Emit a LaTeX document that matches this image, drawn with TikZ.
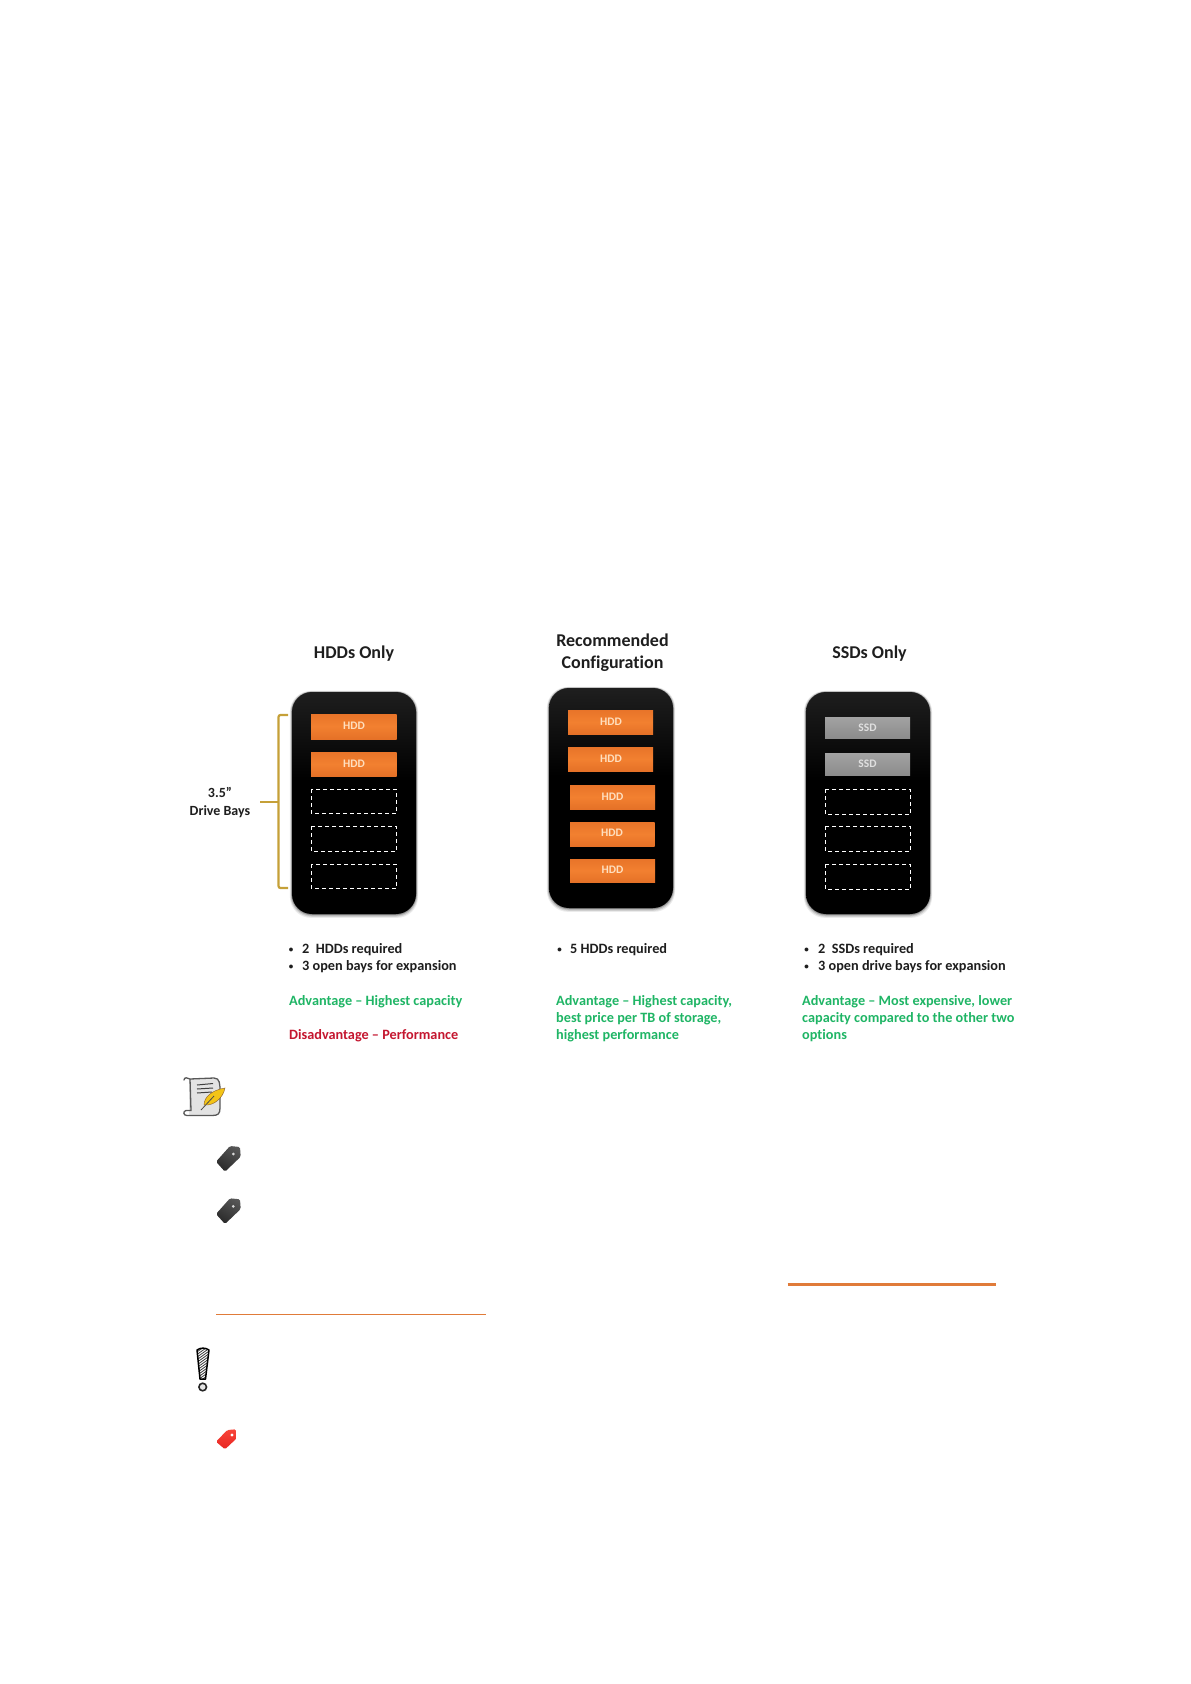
\documentclass[tikz,border=0pt]{standalone}
\usepackage{fontspec}
\setmainfont[Ligatures=NoCommon]{Carlito}
\usetikzlibrary{patterns}
\definecolor{inkc}{HTML}{1E1E1E}
\definecolor{greenc}{HTML}{1FB565}
\definecolor{redc}{HTML}{C4162F}
\definecolor{goldc}{HTML}{C5A038}
\definecolor{rulec}{HTML}{E07B39}
\definecolor{towertop}{HTML}{444444}
\definecolor{towerlow}{HTML}{202020}
\definecolor{hddlow}{HTML}{D8621E}
\definecolor{hddmid}{HTML}{F28030}
\definecolor{hddtop}{HTML}{DE6822}
\definecolor{ssdlow}{HTML}{808080}
\definecolor{ssdtop}{HTML}{AEAEAE}
\definecolor{redlow}{HTML}{E11414}
\definecolor{redhigh}{HTML}{FF5546}
\definecolor{taglow}{HTML}{141414}
\definecolor{taghigh}{HTML}{6A6A6A}
\pgfdeclareverticalshading{towershade}{100bp}{color(0bp)=(towerlow); color(8bp)=(black); color(55bp)=(black); color(100bp)=(towertop)}
\pgfdeclareverticalshading{hddshade}{100bp}{color(0bp)=(hddlow); color(50bp)=(hddmid); color(100bp)=(hddtop)}
\pgfdeclareverticalshading{ssdshade}{100bp}{color(0bp)=(ssdlow); color(100bp)=(ssdtop)}
\pgfdeclareverticalshading{redtag}{100bp}{color(0bp)=(redlow); color(100bp)=(redhigh)}
\pgfdeclareverticalshading{darktag}{100bp}{color(0bp)=(taglow); color(100bp)=(taghigh)}
\tikzset{
  title/.style={font=\fontsize{18}{18}\selectfont\bfseries,text=inkc,inner sep=0pt,anchor=base},
  body/.style={font=\fontsize{14.25}{14.25}\selectfont\bfseries,inner sep=0pt,anchor=base west},
  bodyk/.style={body,text=inkc},
  bodyg/.style={body,text=greenc},
  bodyr/.style={body,text=redc},
  dot/.style={font=\fontsize{9}{9}\selectfont\bfseries,text=inkc,inner sep=0pt,anchor=base},
  drive/.style={font=\fontsize{11.5}{11.5}\selectfont\bfseries,inner sep=0pt},
  hddlabel/.style={drive,text=orange!25!white},
  ssdlabel/.style={drive,text=white!88!black},
  bay/.style={draw=white,line width=0.9pt,dash pattern=on 4pt off 3pt},
  hddbox/.style={shading=hddshade},
  ssdbox/.style={shading=ssdshade},
  towerbody/.style={rounded corners=20pt,shading=towershade},
  bracket/.style={draw=goldc,line width=2.2pt,rounded corners=2pt},
  linkrule/.style={draw=rulec},
}
\newcommand{\towerat}[4]{% x0 y0 x1 y1
  \foreach \g/\op in {3.5/0.08,2.5/0.12,1.5/0.18,0.7/0.25}{
    \fill[black,opacity=\op,rounded corners=21pt] (#1-\g*0.6,#2-\g*0.3) rectangle (#3+\g*0.6,#4+\g*1.1);
  }
  \path[towerbody] (#1,#2) rectangle (#3,#4);
}
\newcommand{\drivetag}[2]{% dx dy dark tag
  \begin{scope}[shift={(#1,#2)}]
    \path[shading=darktag,rounded corners=1.5pt,shading angle=-30] (216,1161.7) -- (225,1171.7) -- (240.7,1156.7) -- (240,1147) -- (230,1146) -- cycle;
    \fill[white!85!black] (233.3,1154) circle (1.5);
  \end{scope}
}
\begin{document}
\begin{tikzpicture}[x=1pt,y=-1pt]
\useasboundingbox (0,0) rectangle (1191,1684);
\fill[white] (0,0) rectangle (1191,1684);

% titles
\node[title] (t1) at (354,658.5) {HDDs Only};
\node[title] (t2a) at (612.5,646.5) {Recommended};
\node[title] (t2b) at (612.5,668.5) {Configuration};
\node[title] (t3) at (869.5,658) {SSDs Only};

% towers
\towerat{292}{692}{416}{914}
\towerat{549}{688}{673}{908}
\towerat{806}{692}{930}{914}

% tower 1
\path[hddbox] (311,714) rectangle (396.5,739);
\path[hddbox] (311,752) rectangle (396.5,776);
\node[hddlabel] (h1a) at (354,726) {HDD};
\node[hddlabel] (h1b) at (354,763.5) {HDD};
\draw[bay] (311,789) rectangle (396.5,813);
\draw[bay] (311,826) rectangle (396.5,851);
\draw[bay] (311,864) rectangle (396.5,888);

% tower 2
\path[hddbox] (568,710) rectangle (653,734);
\path[hddbox] (568,747) rectangle (653,771);
\path[hddbox] (570,785) rectangle (655,809);
\path[hddbox] (570,822) rectangle (654.5,846);
\path[hddbox] (570,859) rectangle (655,882);
\node[hddlabel] (h2a) at (611,721.5) {HDD};
\node[hddlabel] (h2b) at (611,758.5) {HDD};
\node[hddlabel] (h2c) at (612.5,796.5) {HDD};
\node[hddlabel] (h2d) at (612,833) {HDD};
\node[hddlabel] (h2e) at (612.5,870) {HDD};

% tower 3
\path[ssdbox] (825,717) rectangle (910,738);
\path[ssdbox] (825,753) rectangle (910,775);
\node[ssdlabel] (s3a) at (867.5,727.5) {SSD};
\node[ssdlabel] (s3b) at (867.5,764) {SSD};
\draw[bay] (825,789) rectangle (910.5,814);
\draw[bay] (825,826) rectangle (910.5,851);
\draw[bay] (825,864) rectangle (910.5,889);

% bracket
\draw[bracket] (288,715) -- (278.5,715) -- (278.5,888) -- (288,888);
\draw[bracket,rounded corners=0pt] (260,802) -- (278.5,802);
\node[font=\fontsize{14}{14}\selectfont\bfseries,text=inkc,inner sep=0pt,anchor=base] (b1) at (220,797) {3.5”};
\node[font=\fontsize{14}{14}\selectfont\bfseries,text=inkc,inner sep=0pt,anchor=base] (b2) at (220,815) {Drive Bays};

% column 1 text
\node[dot] (c1a) at (291,952) {•};
\node[bodyk] (c1b) at (302,953) {2\ \ HDDs required};
\node[dot] (c1c) at (291,969) {•};
\node[bodyk] (c1d) at (302,970) {3 open bays for expansion};
\node[bodyg] (c1e) at (289,1005) {Advantage – Highest capacity};
\node[bodyr] (c1f) at (289,1039.5) {Disadvantage – Performance};

% column 2 text
\node[dot] (c2a) at (559.5,952) {•};
\node[bodyk] (c2b) at (570,953) {5 HDDs required};
\node[bodyg] (c2c) at (556,1005) {Advantage – Highest capacity,};
\node[bodyg] (c2d) at (556,1022) {best price per TB of storage,};
\node[bodyg] (c2e) at (556,1039) {highest performance};

% column 3 text
\node[dot] (c3a) at (806.5,952) {•};
\node[bodyk] (c3b) at (818,953) {2\ \ SSDs required};
\node[dot] (c3c) at (806.5,969) {•};
\node[bodyk] (c3d) at (818,970) {3 open drive bays for expansion};
\node[bodyg] (c3e) at (802,1005) {Advantage – Most expensive, lower};
\node[bodyg] (c3f) at (802,1022) {capacity compared to the other two};
\node[bodyg] (c3g) at (802,1039) {options};

% scroll icon
\fill[gray!22] (189,1079) -- (216,1079) .. controls (221,1080) and (220,1086) .. (220,1092) -- (220,1110) .. controls (220,1114) and (217,1115.5) .. (214,1115.5) -- (189,1115.5) -- cycle;
\draw[gray!25!black!75,line width=1.3pt,line cap=round] (184,1080) .. controls (184,1077) and (188,1077.5) .. (190,1079) -- (214,1078) .. controls (220,1078) and (220,1084) .. (220,1092) -- (220,1108) .. controls (220,1114) and (218,1115.5) .. (212,1115.5) -- (187,1115.5) .. controls (183,1115.5) and (183,1111) .. (186,1110.5) -- (191,1110.5) -- (190,1079);
\draw[gray!50!black,line width=1pt] (197,1085) -- (213,1083.5) (197,1089) -- (213,1088) (197,1093) -- (212,1092);
\fill[yellow!65!orange!85!brown,draw=brown!70!black,line width=0.4pt] (204,1105) .. controls (204,1097) and (212,1090) .. (225,1088) .. controls (223,1098) and (214,1106) .. (204,1105) -- cycle;
\draw[gray!60!black,line width=0.8pt] (201,1110) -- (214,1096);

% dark tags
\drivetag{0}{0}
\drivetag{0}{52.3}

% rules
\draw[linkrule,line width=2.2pt] (787.5,1284.5) -- (996,1284.5);
\draw[linkrule,line width=1pt] (216,1314) -- (486,1314);

% exclamation icon
\begin{scope}
  \clip (197,1350) .. controls (200,1347.5) and (206,1347.5) .. (209,1350) -- (205.5,1379) -- (200,1379) -- cycle;
  \fill[white] (190,1345) rectangle (215,1382);
  \foreach \k in {0,2.6,...,36}{
    \draw[gray!45!black,line width=0.8pt] (196,1350+\k) -- (210,1340+\k);
  }
\end{scope}
\draw[black,line width=1.5pt,line join=round] (197,1350) .. controls (200,1347.5) and (206,1347.5) .. (209,1350) -- (205.5,1379) -- (200,1379) -- cycle;
\draw[black!85,line width=1.6pt,fill=gray!20] (202.7,1387) circle (3.8);

% red tag
\path[shading=redtag,rounded corners=1.5pt] (216,1441.7) -- (225,1449.3) -- (236.7,1438.3) -- (236,1429.3) -- (227.3,1430) -- cycle;
\fill[white] (232,1435) circle (1.6);
\end{tikzpicture}
\end{document}
